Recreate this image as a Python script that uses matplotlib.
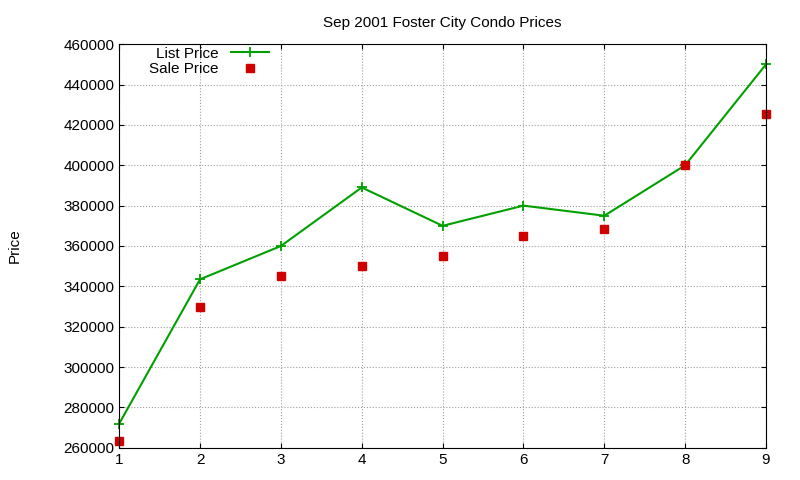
import matplotlib
matplotlib.use("Agg")
import matplotlib.pyplot as plt

x = [1, 2, 3, 4, 5, 6, 7, 8, 9]
list_price = [272000, 343500, 360000, 389000, 370000, 380000, 375000, 400000, 450000]
sale_price = [263500, 330000, 345000, 350000, 355000, 365000, 368500, 400000, 425500]
yticks = list(range(260000, 460001, 20000))

plt.rcParams['font.family'] = ['Liberation Sans', 'DejaVu Sans']
fig = plt.figure(figsize=(8, 4.8), dpi=100)
ax = fig.add_axes([0.149, 0.067, 0.8085, 0.841])
ax.plot(x, list_price, color='#00a000', lw=1.5, marker='+', ms=7, mew=1.3, label='List Price', clip_on=False)
ax.plot(x, sale_price, ls='none', marker='s', ms=6, color='#d00000', label='Sale Price', clip_on=False)
ax.set_xlim(1, 9)
ax.set_ylim(260000, 460000)
ax.set_xticks(x)
ax.set_yticks(yticks)
ax.tick_params(direction='in', labelsize=11, top=True, right=True)
ax.grid(True, color='#a0a0a0', ls=':', lw=0.8)
ax.set_title('Sep 2001 Foster City Condo Prices', fontsize=11, pad=12)
ax.set_ylabel('Price', fontsize=11, labelpad=30)
leg = ax.legend(loc='upper left', bbox_to_anchor=(0.03, 1.02), frameon=False, markerfirst=False,
                fontsize=11, handlelength=2.5, borderpad=0.2, labelspacing=0.1)
for t in leg.get_texts():
    t.set_ha('right')
fig.savefig('out.png')
